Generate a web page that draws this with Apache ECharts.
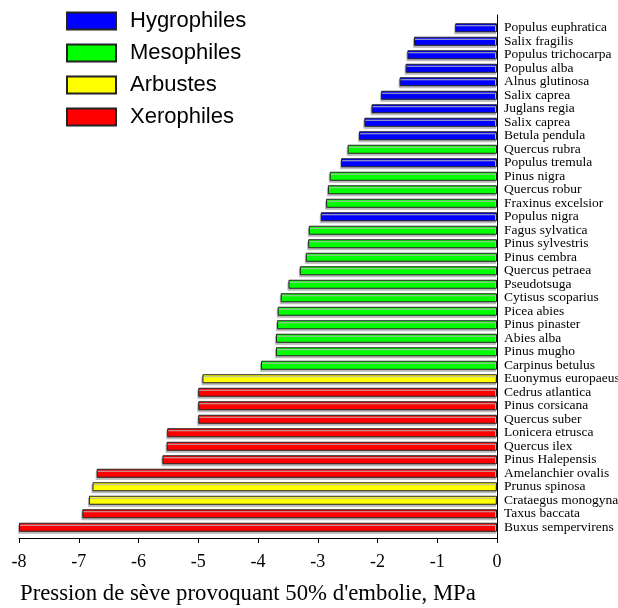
<!DOCTYPE html>
<html>
<head>
<meta charset="utf-8">
<script src="https://cdn.jsdelivr.net/npm/echarts@6/dist/echarts.min.js"></script>
<style>
html,body{margin:0;padding:0;background:#fff;}
#main{width:618px;height:608px;}
</style>
</head>
<body>
<div id="main"></div>
<script>
// espèces, de haut en bas
var species = ['Populus euphratica','Salix fragilis','Populus trichocarpa','Populus alba','Alnus glutinosa',
  'Salix caprea','Juglans regia','Salix caprea','Betula pendula','Quercus rubra','Populus tremula',
  'Pinus nigra','Quercus robur','Fraxinus excelsior','Populus nigra','Fagus sylvatica','Pinus sylvestris',
  'Pinus cembra','Quercus petraea','Pseudotsuga','Cytisus scoparius','Picea abies','Pinus pinaster',
  'Abies alba','Pinus mugho','Carpinus betulus','Euonymus europaeus','Cedrus atlantica','Pinus corsicana',
  'Quercus suber','Lonicera etrusca','Quercus ilex','Pinus Halepensis','Amelanchier ovalis',
  'Prunus spinosa','Crataegus monogyna','Taxus baccata','Buxus sempervirens'];
// pression (MPa) pour 50% d'embolie
var pressure = [-0.70,-1.39,-1.50,-1.53,-1.63,-1.94,-2.10,-2.22,-2.31,-2.50,-2.61,
  -2.80,-2.83,-2.86,-2.95,-3.15,-3.16,-3.20,-3.30,-3.49,-3.62,-3.67,-3.68,
  -3.70,-3.70,-3.95,-4.93,-5.00,-5.00,-5.00,-5.52,-5.53,-5.60,-6.70,
  -6.77,-6.83,-6.94,-8.00];
// groupe de chaque espèce : 0 hygro, 1 meso, 2 arbuste, 3 xero
var group = [0,0,0,0,0,0,0,0,0,1,0,1,1,1,0,1,1,1,1,1,1,1,1,1,1,1,2,3,3,3,3,3,3,3,2,2,3,3];
var groupNames = ['Hygrophiles','Mesophiles','Arbustes','Xerophiles'];
var groupColors = ['#0000ff','#00ff00','#ffff00','#ff0000'];
var xTicks = [-8,-7,-6,-5,-4,-3,-2,-1,0];

var myChart = echarts.init(document.getElementById('main'));

var series = groupNames.map(function(name, g){
  return {
    name: name,
    type: 'bar',
    stack: 'all',
    barWidth: 9,
    xAxisIndex: 0,
    yAxisIndex: 0,
    itemStyle: {
      color: groupColors[g],
      borderColor: '#222',
      borderWidth: 1,
      shadowColor: '#b8b8b8',
      shadowOffsetX: -1,
      shadowOffsetY: 2,
      shadowBlur: 0
    },
    data: pressure.map(function(v, i){ return group[i] === g ? v : '-'; })
  };
});

var option = {
  animation: false,
  backgroundColor: '#fff',
  title: {
    text: "Pression de sève provoquant 50% d'embolie, MPa",
    left: 20,
    top: 583,
    padding: 0,
    textStyle: {fontFamily: 'Liberation Serif', fontSize: 22.75, fontWeight: 'normal', color: '#000'}
  },
  legend: {
    orient: 'vertical',
    left: 66,
    top: 10,
    padding: 0,
    icon: 'rect',
    itemWidth: 49,
    itemHeight: 17,
    itemGap: 10,
    data: groupNames,
    textStyle: {fontFamily: 'Liberation Sans', fontSize: 22, color: '#000', padding: [0,0,0,9]}
  },
  grid: [
    {left: 19, right: 121, top: 21, bottom: 74, outerBoundsMode: 'none'},
    {left: 19, right: 121, top: 15, bottom: 70, outerBoundsMode: 'none'}
  ],
  xAxis: [
    {gridIndex: 0, type: 'value', min: -8, max: 0, interval: 1, show: false},
    {
      gridIndex: 1, type: 'value', min: -8, max: 0, interval: 1,
      axisLine: {show: true, lineStyle: {color: '#000', width: 1}},
      axisTick: {show: true, length: 5, lineStyle: {color: '#000'}},
      splitLine: {show: false},
      axisLabel: {fontFamily: 'Liberation Serif', fontSize: 18, color: '#000', margin: 15,
        formatter: function(v){ return xTicks.indexOf(v) >= 0 ? String(v) : ''; }}
    }
  ],
  yAxis: [
    {
      gridIndex: 0, type: 'category', data: species, inverse: true, position: 'right',
      axisLine: {show: false},
      axisTick: {show: false},
      axisLabel: {fontFamily: 'Liberation Serif', fontSize: 13.5, color: '#000', margin: 7, interval: 0}
    },
    {
      gridIndex: 1, type: 'value', position: 'right', min: 0, max: 1,
      axisLine: {show: true, lineStyle: {color: '#000', width: 1}},
      axisTick: {show: false}, axisLabel: {show: false}, splitLine: {show: false}
    }
  ],
  series: series
};
myChart.setOption(option);
</script>
</body>
</html>
